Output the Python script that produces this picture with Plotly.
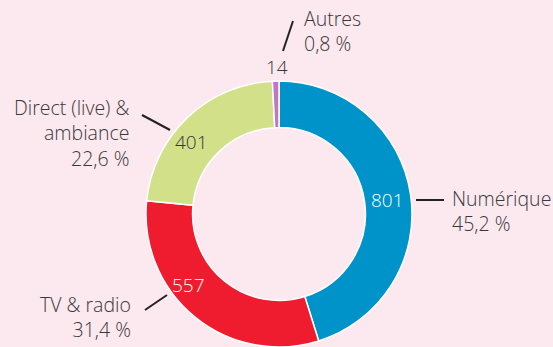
import plotly.graph_objects as go

# Répartition par mode d'exploitation
categories = ["Numérique", "TV & radio", "Direct (live) &<br>ambiance", "Autres"]
values = [801, 557, 401, 14]
shares = ["45,2 %", "31,4 %", "22,6 %", "0,8 %"]

colors = ["#0093c9", "#ee1c2e", "#d2e08a", "#c277c2"]
bg = "#fce8ef"
W, H = 553, 347

# pixel helpers -> paper coordinates
def px(x):
    return x / W

def py(y):
    return 1 - y / H

cx, cy, r = 279, 214, 133

fig = go.Figure(
    go.Pie(
        labels=[c.replace("<br>", " ") for c in categories],
        values=values,
        sort=False,
        direction="clockwise",
        rotation=0,
        hole=0.65,
        textinfo="none",
        hoverinfo="label+value",
        marker=dict(colors=colors, line=dict(color="#ffffff", width=1.5)),
        domain=dict(x=[px(cx - r), px(cx + r)], y=[py(cy + r), py(cy - r)]),
        showlegend=False,
    )
)

font = "Open Sans"
txt_col = "#383838"

# value labels on/near the ring: (x, y, colour)
value_pos = [(388, 200, "white"), (188, 285, "white"), (191, 142, txt_col), (277, 67, txt_col)]
# category labels: (x, y, xanchor, align)
cat_pos = [(450, 211, "left", "left"), (133, 317, "right", "right"),
           (131, 133, "right", "right"), (302, 31, "left", "left")]
# leader lines: (x0, y0, x1, y1)
leaders = [(416, 200, 444, 200), (145, 310, 167, 295),
           (142, 115, 170, 130), (283, 51, 293, 21)]

annotations = []
shapes = []
for i in range(len(values)):
    vx, vy, vc = value_pos[i]
    annotations.append(dict(
        x=px(vx), y=py(vy), xref="paper", yref="paper", showarrow=False,
        text=str(values[i]), font=dict(family=font, size=19, color=vc, weight=300),
        xanchor="center", yanchor="middle",
    ))
    lx, ly, xa, al = cat_pos[i]
    annotations.append(dict(
        x=px(lx), y=py(ly), xref="paper", yref="paper", showarrow=False,
        text=f"{categories[i]}<br>{shares[i]}", align=al,
        font=dict(family=font, size=19.5, color=txt_col, weight=300),
        xanchor=xa, yanchor="middle",
    ))
    x0, y0, x1, y1 = leaders[i]
    shapes.append(dict(
        type="line", xref="paper", yref="paper",
        x0=px(x0), y0=py(y0), x1=px(x1), y1=py(y1),
        line=dict(color="#222222", width=2),
    ))

fig.update_layout(
    width=W, height=H,
    margin=dict(l=0, r=0, t=0, b=0),
    paper_bgcolor=bg, plot_bgcolor=bg,
    annotations=annotations, shapes=shapes,
)

fig.write_html("out.html")
